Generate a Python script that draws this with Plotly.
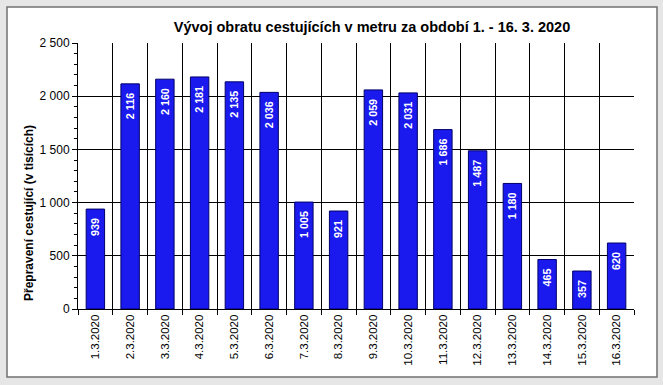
import plotly.graph_objects as go

dates = ["1.3.2020", "2.3.2020", "3.3.2020", "4.3.2020", "5.3.2020", "6.3.2020",
         "7.3.2020", "8.3.2020", "9.3.2020", "10.3.2020", "11.3.2020", "12.3.2020",
         "13.3.2020", "14.3.2020", "15.3.2020", "16.3.2020"]
passengers = [939, 2116, 2160, 2181, 2135, 2036, 1005, 921, 2059, 2031, 1686,
              1487, 1180, 465, 357, 620]
y_ticks = [0, 500, 1000, 1500, 2000, 2500]

title_text = "Vývoj obratu cestujících v metru za období 1. - 16. 3. 2020"
y_title = "Přepravení cestující (v tisících)"

# value labels with a space as thousands separator, padded from the bar top
labels = [f"{v:,}".replace(",", " ") + "\u00a0\u00a0" for v in passengers]
FONT = "Liberation Sans, Arial, sans-serif"

W, H = 663, 385
L, R, T, B = 78, 634, 43, 309


def px_x(p):
    return (p - L) / (R - L)


def px_y(p):
    return (B - p) / (B - T)


fig = go.Figure()
fig.add_trace(go.Bar(
    x=dates, y=passengers, text=labels,
    textposition="inside", insidetextanchor="end", textangle=-90,
    textfont=dict(family=FONT, size=13, color="white", weight="bold"),
    marker=dict(color="#1a1aee", line=dict(color="#00006a", width=1)),
    width=0.53, cliponaxis=False, hoverinfo="skip",
))

fig.update_layout(
    width=W, height=H,
    margin=dict(l=L, r=W - R, t=T, b=H - B, autoexpand=False),
    paper_bgcolor="#e6e6e6", plot_bgcolor="white",
    separators=", ",
    showlegend=False,
    font=dict(family=FONT, color="black"),
    title=dict(text=title_text, x=px_x(372), xref="paper", xanchor="center",
               y=1 - 27 / H, yanchor="middle",
               font=dict(family=FONT, size=14.5, color="black", weight="bold")),
    xaxis=dict(type="category", tickson="boundaries", ticks="outside", ticklen=5,
               tickcolor="black", showline=True, linecolor="black", linewidth=1,
               showgrid=True, gridcolor="black", gridwidth=1,
               tickangle=-90, tickfont=dict(family=FONT, size=11.5, color="black"),
               range=[-0.5, len(dates) - 0.5], fixedrange=True, automargin=False),
    yaxis=dict(range=[0, 2500], tickvals=y_ticks, separatethousands=True,
               ticks="outside", ticklen=5, tickcolor="black",
               showline=True, linecolor="black", linewidth=1,
               showgrid=True, gridcolor="black", gridwidth=1,
               zeroline=False, automargin=False, fixedrange=True,
               tickfont=dict(family=FONT, size=12, color="black"),
               minor=dict(dtick=100, ticks="outside", ticklen=3, tickcolor="black",
                          showgrid=False)),
    shapes=[dict(type="rect", xref="paper", yref="paper",
                 x0=px_x(7), x1=px_x(657), y0=px_y(377), y1=px_y(7),
                 fillcolor="white", line=dict(color="#707070", width=1.5),
                 layer="below")],
    annotations=[dict(text=y_title, x=px_x(29), y=px_y(213), xref="paper", yref="paper",
                      xanchor="center", yanchor="middle",
                      textangle=-90, showarrow=False,
                      font=dict(family=FONT, size=12, color="black", weight="bold"))],
)

fig.write_html("out.html", config={"displayModeBar": False},
               post_script="document.body.style.margin='0';document.body.style.padding='0';"
                           "document.body.style.overflow='hidden';")
